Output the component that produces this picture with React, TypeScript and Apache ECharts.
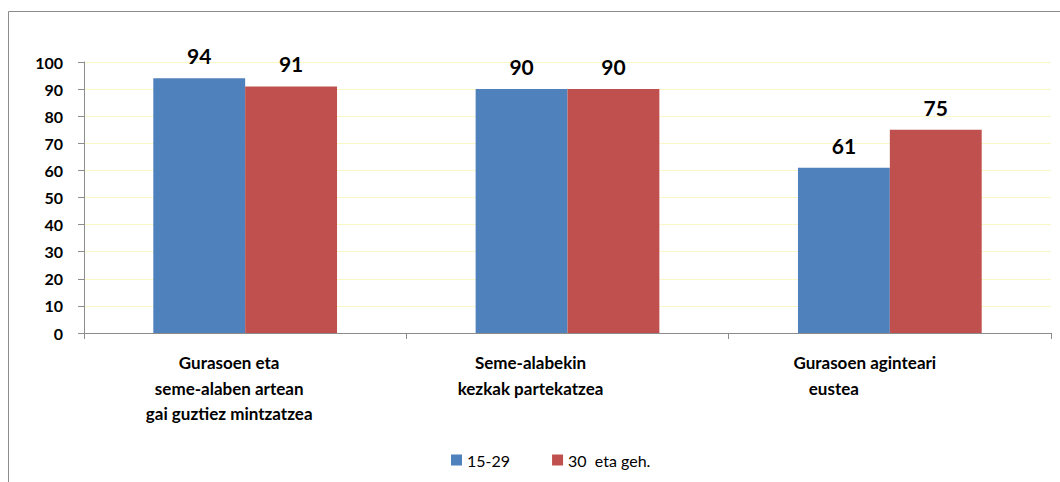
import React, { useEffect, useRef } from "react";
import * as echarts from "echarts";

const categories = [
  "Gurasoen eta\nseme-alaben artean\ngai guztiez mintzatzea",
  "Seme-alabekin\nkezkak partekatzea",
  "Gurasoen aginteari\neustea",
];
const seriesNames = ["15-29", "30  eta geh."];
const young = [94, 90, 61];
const older = [91, 90, 75];
const colors = ["#4F81BD", "#C0504D"];

// per-line left shift (px) of category labels, as in the reference
const lineShift = [
  [16, 16, 16],
  [37, 37],
  [25, 56],
];

const FONT = "Lato, 'Open Sans', sans-serif";

export default function App() {
  const ref = useRef<HTMLDivElement>(null);
  useEffect(() => {
    if (!ref.current) return;
    const chart = echarts.init(ref.current, null, { renderer: "svg" });
    const rich: Record<string, any> = {};
    const shifts = new Set<number>();
    lineShift.forEach((l) => l.forEach((s) => shifts.add(s)));
    shifts.forEach((s) => {
      rich["s" + s] = {
        fontFamily: FONT,
        fontWeight: "bold",
        fontSize: 17,
        color: "#000",
        lineHeight: 25.5,
        padding: [0, 2 * s, 0, 0],
      };
    });
    const labelStyle = {
      show: true,
      position: "top" as const,
      distance: 12,
      fontFamily: FONT,
      fontWeight: "bold" as const,
      fontSize: 21,
      color: "#000",
    };
    chart.setOption({
      animation: false,
      backgroundColor: "#fff",
      textStyle: { fontFamily: FONT },
      graphic: [
        {
          type: "rect",
          shape: { x: 8.5, y: 11.5, width: 1200, height: 600 },
          style: { fill: "none", stroke: "#8c8c8c", lineWidth: 1 },
          silent: true,
        },
      ],
      grid: { left: 84, right: 9, top: 62, bottom: 149, containLabel: false },
      legend: {
        top: 447,
        left: 446,
        itemWidth: 11,
        itemHeight: 11,
        itemGap: 42,
        icon: "rect",
        textStyle: { fontFamily: FONT, fontSize: 16, color: "#000" },
        data: seriesNames,
      },
      xAxis: {
        type: "category",
        data: categories,
        axisLine: { lineStyle: { color: "#8c8c8c" } },
        axisTick: { show: true, length: 6, lineStyle: { color: "#8c8c8c" } },
        axisLabel: {
          margin: 17,
          interval: 0,
          formatter: (v: string, idx: number) =>
            v
              .split("\n")
              .map((line, i) => `{s${lineShift[idx][i]}|${line}}`)
              .join("\n"),
          rich,
        },
      },
      yAxis: {
        type: "value",
        min: 0,
        max: 100,
        interval: 10,
        axisLine: { show: true, lineStyle: { color: "#8c8c8c" } },
        axisTick: { show: true, length: 6, lineStyle: { color: "#8c8c8c" } },
        axisLabel: {
          margin: 21,
          fontFamily: FONT,
          fontWeight: "bold",
          fontSize: 16,
          color: "#000",
        },
        splitLine: { lineStyle: { color: "#fbf6c6", width: 1 } },
      },
      series: [
        {
          name: seriesNames[0],
          type: "bar",
          data: young,
          itemStyle: { color: colors[0] },
          barGap: "0%",
          barCategoryGap: "43%",
          label: labelStyle,
        },
        {
          name: seriesNames[1],
          type: "bar",
          data: older,
          itemStyle: { color: colors[1] },
          barGap: "0%",
          barCategoryGap: "43%",
          label: labelStyle,
        },
      ],
    });
    return () => chart.dispose();
  }, []);
  return (
    <div
      ref={ref}
      style={{ position: "absolute", left: 0, top: 0, width: 1060, height: 482 }}
    />
  );
}
